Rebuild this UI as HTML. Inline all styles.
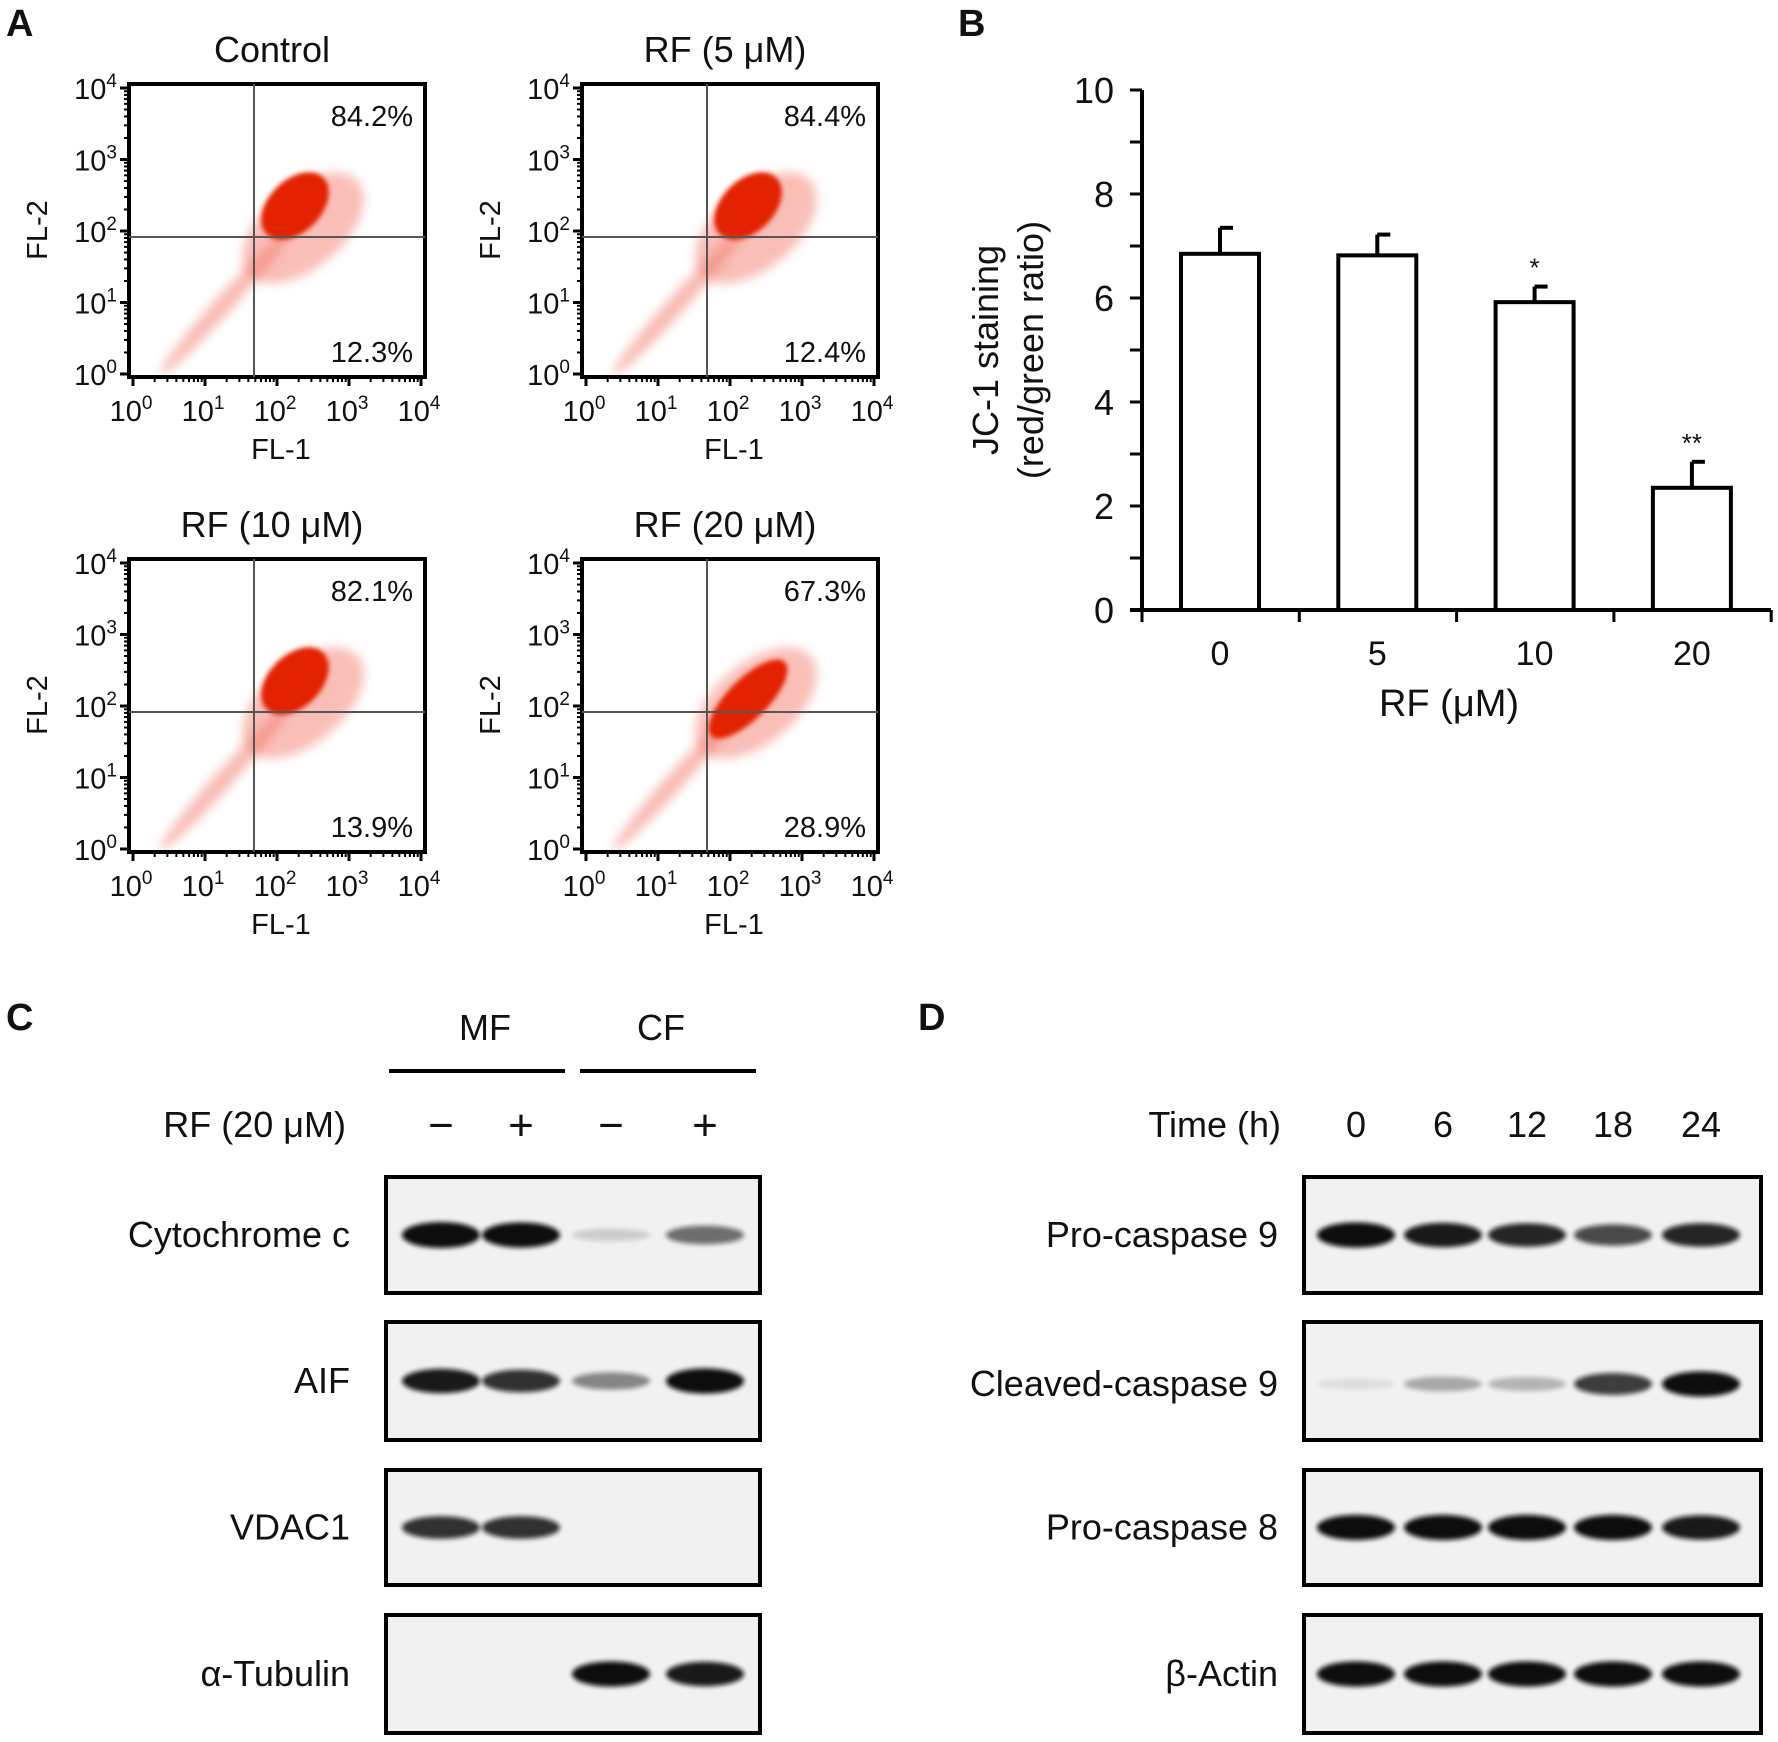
<!DOCTYPE html>
<html><head><meta charset="utf-8">
<style>
html,body{margin:0;padding:0;background:#fff}
svg{display:block}
text{font-family:"Liberation Sans",Arial,sans-serif;fill:#111}
</style></head>
<body>
<svg id="fig" width="1778" height="1742" viewBox="0 0 1778 1742" xmlns="http://www.w3.org/2000/svg">
<defs>
<filter id="b2" x="-50%" y="-50%" width="200%" height="200%"><feGaussianBlur stdDeviation="5"/></filter>
<filter id="b1" x="-50%" y="-50%" width="200%" height="200%"><feGaussianBlur stdDeviation="2.5"/></filter>
</defs>
<text x="6" y="36" font-size="38" font-weight="bold">A</text>
<text x="958" y="36" font-size="38" font-weight="bold">B</text>
<text x="6" y="1030" font-size="38" font-weight="bold">C</text>
<text x="918" y="1030" font-size="38" font-weight="bold">D</text>
<g id="pa"></g><g id="pb"></g><g id="pc"></g><g id="pd"></g>
</svg>
<script>
// ---- Panel A data ----
const flowTitles = ["Control","RF (5 \u03bcM)","RF (10 \u03bcM)","RF (20 \u03bcM)"];
const upperPct = ["84.2%","84.4%","82.1%","67.3%"];
const lowerPct = ["12.3%","12.4%","13.9%","28.9%"];
const logTicks = ["0","1","2","3","4"];
// ---- Panel B data ----
const barCats = ["0","5","10","20"];
const barVals = [6.85,6.82,5.92,2.35];
const barErr = [0.5,0.4,0.3,0.5];
const barSig = ["","","*","**"];
const yTicks = [0,2,4,6,8,10];
// ---- Panel C/D data ----
const cLabels = ["Cytochrome c","AIF","VDAC1","\u03b1-Tubulin"];
const cIntensity = [[1,0.95,0.15,0.55],[0.9,0.8,0.45,0.95],[0.8,0.8,0,0],[0,0,0.95,0.9]];
const dLabels = ["Pro-caspase 9","Cleaved-caspase 9","Pro-caspase 8","\u03b2-Actin"];
const dTimes = ["0","6","12","18","24"];
const dIntensity = [[0.95,0.9,0.85,0.7,0.85],[0.08,0.3,0.25,0.75,0.95],[0.95,0.95,0.95,0.95,0.9],[0.95,0.95,0.95,0.95,0.95]];

const NS="http://www.w3.org/2000/svg";
function el(tag,attrs,parent,txt){const e=document.createElementNS(NS,tag);for(const k in attrs)e.setAttribute(k,attrs[k]);if(txt!==undefined)e.textContent=txt;parent.appendChild(e);return e;}

// ---- Panel A ----
const pa=document.getElementById('pa');
const boxes=[[129,84],[582,84],[129,559],[582,559]];
const W=296,H=293;
flowTitles.forEach((t,i)=>{
  const [x0,y0]=boxes[i];
  const g=el('g',{},pa);
  
  
  const tt=el('text',{x:x0+W/2-5,y:y0-22,'font-size':36,'text-anchor':'middle'},g,t);
  
  
  const cx=x0+166, cy=y0+122;
  const sh = i===3 ? 1.3 : 1;
  el('ellipse',{cx:x0+95,cy:y0+220,rx:95,ry:9,transform:`rotate(-48 ${x0+95} ${y0+220})`,fill:'#f06a5a',opacity:0.45,filter:'url(#b2)'},g);
  el('ellipse',{cx:cx+8,cy:cy+22,rx:72,ry:40,transform:`rotate(-40 ${cx+8} ${cy+22})`,fill:'#f3705f',opacity:0.45,filter:'url(#b2)'},g);
  el('ellipse',{cx:cx,cy:cy+(i===3?18:0),rx:40*sh,ry:26/sh,transform:`rotate(-45 ${cx} ${cy+(i===3?18:0)})`,fill:'#e32000',filter:'url(#b1)'},g);
  el('rect',{x:x0,y:y0,width:W,height:H,fill:'none',stroke:'#000','stroke-width':4},g);
  el('line',{x1:x0+125,y1:y0,x2:x0+125,y2:y0+H,stroke:'#555','stroke-width':2},g);
  el('line',{x1:x0,y1:y0+153,x2:x0+W,y2:y0+153,stroke:'#555','stroke-width':2},g);
  const up=el('text',{x:x0+W-12,y:y0+42,'font-size':29,'text-anchor':'end'},g,upperPct[i]);
  
  
  const lo=el('text',{x:x0+W-12,y:y0+278,'font-size':29,'text-anchor':'end'},g,lowerPct[i]);
  
  
  const ys=k=>y0+290-k*71.5, xs=k=>x0+4+k*72;
  logTicks.forEach((lt,k)=>{
    el('line',{x1:x0-9,y1:ys(k),x2:x0,y2:ys(k),stroke:'#000','stroke-width':3},g);
    el('line',{x1:xs(k),y1:y0+H,x2:xs(k),y2:y0+H+9,stroke:'#000','stroke-width':3},g);
    for(let m=2;m<10&&k<4;m++){const o=Math.log10(m)*71.5;
      el('line',{x1:x0-5,y1:ys(k)-o,x2:x0,y2:ys(k)-o,stroke:'#000','stroke-width':2},g);
      el('line',{x1:xs(k)+Math.log10(m)*72,y1:y0+H,x2:xs(k)+Math.log10(m)*72,y2:y0+H+5,stroke:'#000','stroke-width':2},g);}
    const yl=el('text',{x:x0-12,y:ys(k)+11,'font-size':29,'text-anchor':'end'},g);
    
    
    el('tspan',{},yl,'10');el('tspan',{dy:-12,'font-size':19},yl,lt);
    const xl=el('text',{x:xs(k)-2,y:y0+H+44,'font-size':29,'text-anchor':'middle'},g);
    
    
    el('tspan',{},xl,'10');el('tspan',{dy:-12,'font-size':19},xl,lt);
  });
  const xt=el('text',{x:x0+152,y:y0+H+82,'font-size':29,'text-anchor':'middle'},g,'FL-1');
  
  
  const yt=el('text',{x:0,y:0,'font-size':29,'text-anchor':'middle',transform:`translate(${x0-82},${y0+146}) rotate(-90)`},g,'FL-2');
  
  
});

// ---- Panel B ----
const pb=document.getElementById('pb');
const ax0=1142, axR=1771, y0p=610, y10p=90;
const yS=v=>y0p-(y0p-y10p)*v/10;
const catX=i=>1220+i*157.3;
el('line',{x1:ax0,y1:y10p,x2:ax0,y2:y0p+2,stroke:'#000','stroke-width':4},pb);
el('line',{x1:ax0-12,y1:y0p,x2:axR,y2:y0p,stroke:'#000','stroke-width':4},pb);
for(let v=1;v<=10;v++) el('line',{x1:ax0-12,y1:yS(v),x2:ax0,y2:yS(v),stroke:'#000','stroke-width':3},pb);
yTicks.forEach(v=>{const t=el('text',{x:ax0-28,y:yS(v)+13,'font-size':36,'text-anchor':'end'},pb,String(v));
  
  });
for(let k=0;k<=4;k++){const x=ax0+k*157.3;el('line',{x1:x,y1:y0p,x2:x,y2:y0p+12,stroke:'#000','stroke-width':3},pb);}
barCats.forEach((c,i)=>{
  const x=catX(i);
  const r=el('rect',{x:x-39,y:yS(barVals[i]),width:78,height:y0p-yS(barVals[i]),fill:'#fff',stroke:'#000','stroke-width':4},pb);
  
  
  const top=yS(barVals[i]+barErr[i]);
  el('line',{x1:x,y1:yS(barVals[i]),x2:x,y2:top,stroke:'#000','stroke-width':4},pb);
  el('line',{x1:x,y1:top,x2:x+13,y2:top,stroke:'#000','stroke-width':4},pb);
  if(barSig[i]){const s=el('text',{x:x,y:top-10,'font-size':26,'text-anchor':'middle'},pb,barSig[i]);
    
    }
  const t=el('text',{x:x,y:665,'font-size':34,'text-anchor':'middle'},pb,c);
  
  
});
const bxt=el('text',{x:1449,y:716,'font-size':38,'text-anchor':'middle'},pb,'RF (\u03bcM)');


const byt=el('text',{'font-size':36,'text-anchor':'middle',transform:'translate(998,350) rotate(-90)'},pb,'JC-1 staining');


const byt2=el('text',{'font-size':36,'text-anchor':'middle',transform:'translate(1043,350) rotate(-90)'},pb,'(red/green ratio)');



// ---- Blots ----
const rowsY=[[1177,1293],[1322,1440],[1470,1585],[1615,1733]];
function blots(parent,x0,x1,lanes,labels,inten,labelX,name){
  labels.forEach((lb,r)=>{
    const [t,b]=rowsY[r];const cy=(t+b)/2+(r===1&&name==='d'?3:0);
    const g=el('g',{},parent);
    
    
    el('rect',{x:x0,y:t,width:x1-x0,height:b-t,fill:'#f1f1f1',stroke:'#000','stroke-width':4},g);
    lanes.forEach((lx,i)=>{const v=inten[r][i];if(v<=0)return;
      el('ellipse',{cx:lx,cy:cy,rx:39,ry:5+8*v,fill:'#111',opacity:Math.min(1,v*1.05),filter:'url(#b1)'},g);});
    const tx=el('text',{x:labelX,y:cy+12,'font-size':36,'text-anchor':'end'},g,lb);
    
    
  });
}
const pc=document.getElementById('pc');
const cLanes=[441,521,611,705];
blots(pc,386,760,cLanes,cLabels,cIntensity,350,'c');
[["MF",485,389,565],["CF",661,580,756]].forEach(([t,x,a,b])=>{
  const e=el('text',{x:x,y:1040,'font-size':36,'text-anchor':'middle'},pc,t);
  
  
  el('line',{x1:a,y1:1071,x2:b,y2:1071,stroke:'#000','stroke-width':4},pc);});
const rfl=el('text',{x:346,y:1137,'font-size':36,'text-anchor':'end'},pc,'RF (20 \u03bcM)');


["\u2212","+","\u2212","+"].forEach((s,i)=>{const e=el('text',{x:cLanes[i],y:1140,'font-size':44,'text-anchor':'middle'},pc,s);
  
  });
const pd=document.getElementById('pd');
const dLanes=[1356,1443,1527,1613,1701];
blots(pd,1304,1761,dLanes,dLabels,dIntensity,1278,'d');
const tl=el('text',{x:1281,y:1137,'font-size':36,'text-anchor':'end'},pd,'Time (h)');


dTimes.forEach((t,i)=>{const e=el('text',{x:dLanes[i],y:1137,'font-size':36,'text-anchor':'middle'},pd,t);
  
  });
</script>
</body></html>
